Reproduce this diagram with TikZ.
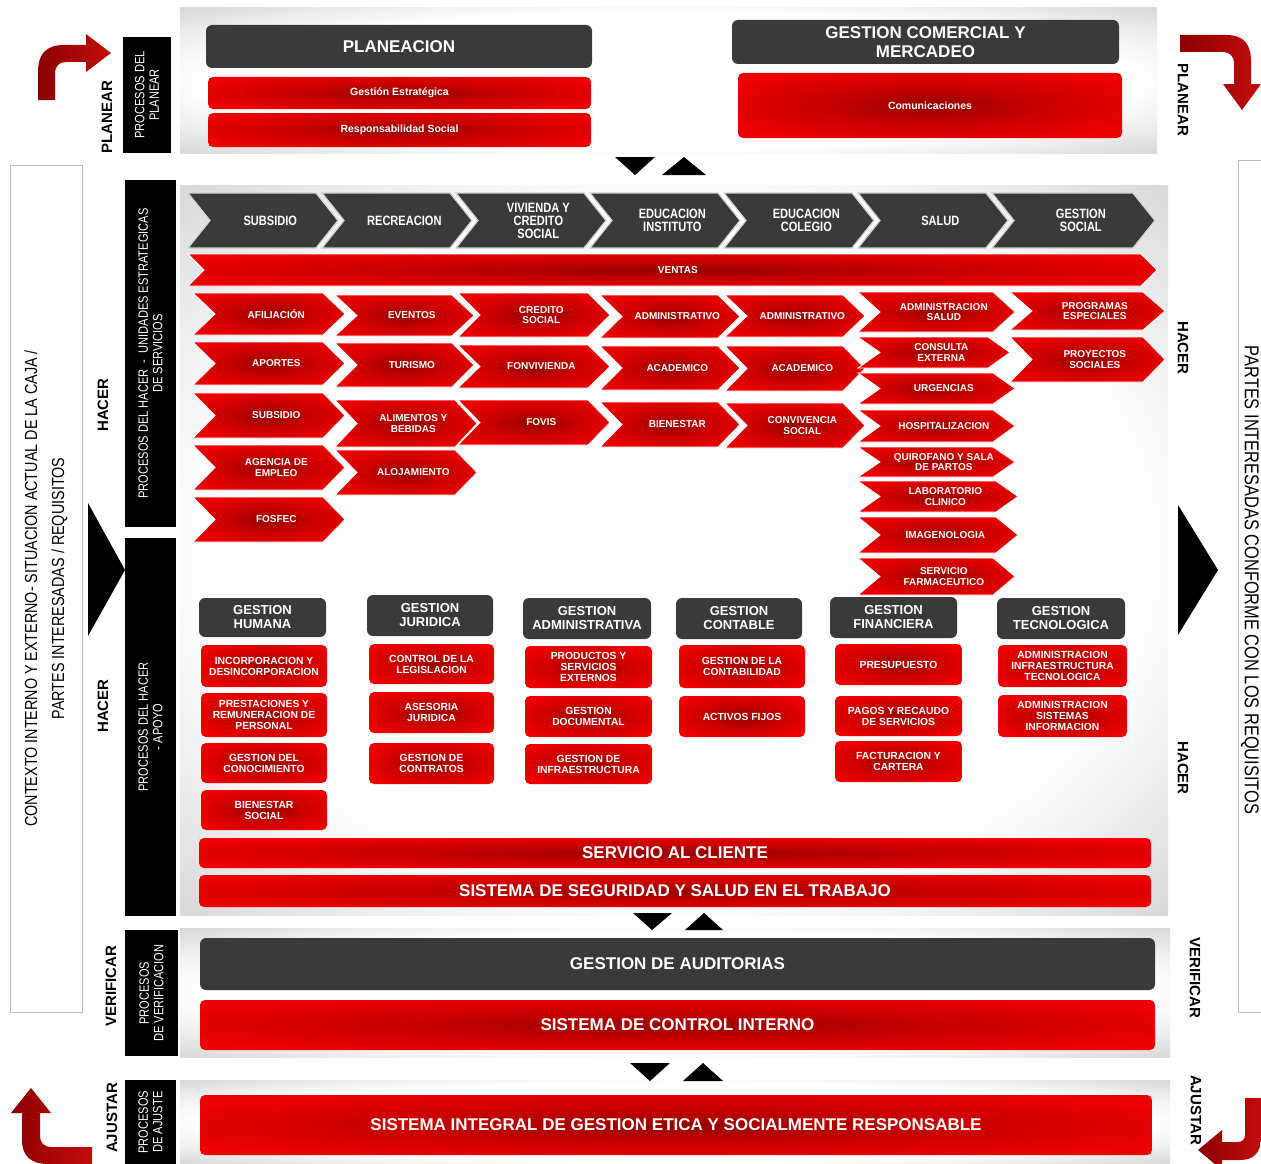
\documentclass[tikz,border=0pt]{standalone}
\usepackage{fontspec}
\setmainfont{Liberation Sans}
\newfontfamily\nar[FakeStretch=0.82]{Liberation Sans}
\definecolor{dkgray}{RGB}{58,58,58}
\definecolor{rdA}{RGB}{150,0,0}
\definecolor{rdB}{RGB}{200,0,0}
\definecolor{rdC}{RGB}{238,0,0}
\definecolor{pgB}{RGB}{200,200,200}
\definecolor{pgC}{RGB}{155,155,155}
\definecolor{arrowred}{RGB}{195,12,12}
\definecolor{arrowdark}{RGB}{140,0,0}
\pgfdeclareradialshading{redsh}{\pgfpoint{0bp}{0bp}}{color(0bp)=(rdA); color(14bp)=(rdB); color(30bp)=(rdC); color(50bp)=(rdC); color(75bp)=(rdC)}
\pgfdeclareradialshading{panelsh}{\pgfpoint{0bp}{0bp}}{color(0bp)=(white); color(24bp)=(white); color(40bp)=(pgB); color(50bp)=(pgC); color(75bp)=(pgC)}
\tikzset{
  panel/.style={shade, shading=panelsh, inner sep=0pt},
  redbox/.style={shade, shading=redsh, rounded corners=5pt, text=white, align=center, inner sep=0pt,
    font=\bfseries\fontsize{10.3}{11}\selectfont},
  darkbox/.style={fill=dkgray, rounded corners=6pt, text=white, align=center, inner sep=0pt,
    font=\bfseries\fontsize{13}{14}\selectfont},
  bigtxt/.style={font=\bfseries\fontsize{17}{19}\selectfont},
  midtxt/.style={font=\bfseries\fontsize{10.5}{12}\selectfont},
  hdrbig/.style={font=\bfseries\fontsize{17}{19}\selectfont},
  blk/.style={fill=black, text=white, align=center, inner sep=0pt, font=\nar\fontsize{13.5}{14.5}\selectfont},
  phase/.style={inner sep=0pt, font=\bfseries\fontsize{15}{17}\selectfont},
  ctxbox/.style={draw=gray!55, line width=0.8pt, fill=white, align=center, inner sep=0pt,
    font=\nar\fontsize{17.5}{27}\selectfont},
  redchev/.style={shade, shading=redsh, draw=white, line width=0.8pt},
  redchev text/.style={text=white, align=center, inner sep=0pt, font=\bfseries\fontsize{10}{10.8}\selectfont},
  darkchev/.style={fill=dkgray, draw=gray!35, line width=1.2pt},
  darkchev text/.style={text=white, align=center, inner sep=0pt, font=\nar\bfseries\fontsize{13.5}{13}\selectfont},
  arrowfill/.style={left color=arrowdark, right color=arrowred},
  tri/.style={fill=black}
}
\newcommand\bx[7]{\node[#2, minimum width={(#5)-(#3)}, minimum height={(#6)-(#4)}] (#1) at ({((#3)+(#5))/2},{((#4)+(#6))/2}) {#7};}
\newcommand\vbx[7]{\node[#2, rotate=90, minimum width={(#6)-(#4)}, minimum height={(#5)-(#3)}] (#1) at ({((#3)+(#5))/2},{((#4)+(#6))/2}) {#7};}
\newcommand\chv[8]{%
  \path[#2] (#3,#5) -- ({(#4)-(#7)},#5) -- (#4,{((#5)+(#6))/2}) -- ({(#4)-(#7)},#6) -- (#3,#6) -- ({(#3)+(#7)},{((#5)+(#6))/2}) -- cycle;
  \node[#2 text] (#1) at ({((#3)+(#4))/2+(#7)/3},{((#5)+(#6))/2}) {#8};}
\begin{document}
\begin{tikzpicture}[x=1pt,y=-1pt]
\useasboundingbox (0,0) rectangle (1261,1164);
\fill[white] (0,0) rectangle (1261,1164);

% ---------- side boxes ----------
\vbx{ctx}{ctxbox}{10}{165}{82}{1012}{CONTEXTO INTERNO Y EXTERNO- SITUACION ACTUAL DE LA CAJA /\\PARTES INTERESADAS / REQUISITOS}
\path[draw=gray!55, line width=0.8pt, fill=white] (1270,160) -- (1238,160) -- (1238,1012) -- (1270,1012);
\node[inner sep=0pt, rotate=-90, font=\nar\fontsize{20}{22}\selectfont] (req) at (1250,580) {PARTES INTERESADAS CONFORME CON LOS REQUISITOS};

% ---------- panels ----------
\bx{pPlan}{panel}{180}{8}{1157}{153}{}
\bx{pHacer}{panel}{180}{185}{1168}{915}{}
\bx{pVer}{panel}{180}{928}{1170}{1057}{}
\bx{pAju}{panel}{180}{1080}{1170}{1164}{}

% ---------- black labels ----------
\vbx{lPlan}{blk}{123}{37}{171}{153}{PROCESOS DEL\\PLANEAR}
\vbx{lHac1}{blk}{125}{180}{176}{527}{PROCESOS DEL HACER \ - \ UNIDADES ESTRATEGICAS\\DE SERVICIOS}
\vbx{lHac2}{blk}{125}{538}{176}{916}{PROCESOS DEL HACER\\- APOYO}
\vbx{lVer}{blk}{125}{930}{178}{1056}{PROCESOS\\DE VERIFICACION}
\vbx{lAju}{blk}{125}{1080}{176}{1164}{PROCESOS\\DE AJUSTE}

% ---------- phase words ----------
\node[phase, rotate=90] (tPlanL) at (107,117) {PLANEAR};
\node[phase, rotate=90] (tHacL1) at (103,405) {HACER};
\node[phase, rotate=90] (tHacL2) at (103,706) {HACER};
\node[phase, rotate=90] (tVerL) at (111,986) {VERIFICAR};
\node[phase, rotate=90] (tAjuL) at (112,1118) {AJUSTAR};
\node[phase, rotate=-90] (tPlanR) at (1183,100) {PLANEAR};
\node[phase, rotate=-90] (tHacR1) at (1183,348) {HACER};
\node[phase, rotate=-90] (tHacR2) at (1183,768) {HACER};
\node[phase, rotate=-90] (tVerR) at (1195,978) {VERIFICAR};
\node[phase, rotate=-90] (tAjuR) at (1196,1110) {AJUSTAR};

% ---------- big triangles ----------
\path[tri] (88,503) -- (125,570) -- (88,636) -- cycle;
\path[tri] (1178,505) -- (1218,570) -- (1178,635) -- cycle;
\path[tri] (615,157) -- (655,157) -- (635,175) -- cycle;
\path[tri] (662,175) -- (706,175) -- (684,157) -- cycle;
\path[tri] (633,913) -- (672,913) -- (652,930) -- cycle;
\path[tri] (685,930) -- (723,930) -- (704,913) -- cycle;
\path[tri] (630,1063) -- (670,1063) -- (650,1081) -- cycle;
\path[tri] (683,1081) -- (723,1081) -- (703,1063) -- cycle;

% ---------- curved arrows ----------
\path[arrowfill] (38,100) -- (38,72) .. controls (38,54) and (46,45) .. (64,45) -- (86,45) -- (86,34) -- (111,53) -- (86,72) -- (86,62) -- (66,62) .. controls (59,62) and (55,66) .. (55,74) -- (55,100) -- cycle;
\path[arrowfill] (1180,35) -- (1226,35) .. controls (1244,35) and (1251,44) .. (1251,62) -- (1251,84) -- (1261,84) -- (1242,110) -- (1223,84) -- (1234,84) -- (1234,64) .. controls (1234,56) and (1230,52) .. (1222,52) -- (1180,52) -- cycle;
\path[arrowfill] (31,1088) -- (51,1113) -- (40,1113) -- (40,1136) .. controls (40,1143) and (44,1147) .. (52,1147) -- (92,1147) -- (92,1164) -- (48,1164) .. controls (31,1164) and (22,1156) .. (22,1140) -- (22,1113) -- (11,1113) -- cycle;
\path[arrowfill] (1245,1098) -- (1261,1098) -- (1261,1138) .. controls (1261,1152) and (1254,1160) .. (1240,1160) -- (1222,1160) -- (1222,1170) -- (1198,1150) -- (1222,1130) -- (1222,1142) -- (1237,1142) .. controls (1242,1142) and (1245,1140) .. (1245,1134) -- cycle;

% ---------- PLANEAR panel ----------
\bx{planeacion}{darkbox, hdrbig}{206}{25}{592}{68}{PLANEACION}
\bx{gestEst}{redbox, midtxt}{208}{77}{591}{109}{Gestión Estratégica}
\bx{respSoc}{redbox, midtxt}{208}{113}{591}{147}{Responsabilidad Social}
\bx{gcm}{darkbox, hdrbig}{732}{20}{1119}{64}{GESTION COMERCIAL Y\\MERCADEO}
\bx{comun}{redbox, midtxt}{738}{73}{1122}{138}{Comunicaciones}

% ---------- unidades estrategicas ----------
\chv{u1}{darkchev}{188}{338}{193}{248}{22}{SUBSIDIO}
\chv{u2}{darkchev}{322}{472}{193}{248}{22}{RECREACION}
\chv{u3}{darkchev}{456}{606}{193}{248}{22}{VIVIENDA Y\\CREDITO\\SOCIAL}
\chv{u4}{darkchev}{590}{740}{193}{248}{22}{EDUCACION\\INSTITUTO}
\chv{u5}{darkchev}{724}{874}{193}{248}{22}{EDUCACION\\COLEGIO}
\chv{u6}{darkchev}{858}{1008}{193}{248}{22}{SALUD}
\chv{u7}{darkchev}{992}{1155}{193}{248}{22}{GESTION\\SOCIAL}

\chv{ventas}{redchev}{188}{1157}{254}{286}{16}{VENTAS}

\chv{s11}{redchev}{193}{345}{293}{335}{22}{AFILIACIÓN}
\chv{s12}{redchev}{193}{345}{342}{385}{22}{APORTES}
\chv{s13}{redchev}{193}{345}{393}{438}{22}{SUBSIDIO}
\chv{s14}{redchev}{193}{345}{445}{490}{22}{AGENCIA DE\\EMPLEO}
\chv{s15}{redchev}{193}{345}{497}{542}{22}{FOSFEC}

\chv{s21}{redchev}{335}{474}{295}{336}{22}{EVENTOS}
\chv{s22}{redchev}{335}{474}{343}{387}{22}{TURISMO}
\chv{s23}{redchev}{335}{477}{400}{447}{22}{ALIMENTOS Y\\BEBIDAS}
\chv{s24}{redchev}{335}{477}{450}{495}{22}{ALOJAMIENTO}

\chv{s31}{redchev}{458}{610}{293}{337}{22}{CREDITO\\SOCIAL}
\chv{s32}{redchev}{458}{610}{345}{388}{22}{FONVIVIENDA}
\chv{s33}{redchev}{458}{610}{400}{445}{22}{FOVIS}

\chv{s41}{redchev}{600}{740}{295}{338}{22}{ADMINISTRATIVO}
\chv{s42}{redchev}{600}{740}{346}{390}{22}{ACADEMICO}
\chv{s43}{redchev}{600}{740}{402}{447}{22}{BIENESTAR}

\chv{s51}{redchev}{725}{865}{295}{337}{22}{ADMINISTRATIVO}
\chv{s52}{redchev}{725}{865}{346}{391}{22}{ACADEMICO}
\chv{s53}{redchev}{725}{865}{403}{448}{22}{CONVIVENCIA\\SOCIAL}

\chv{s61}{redchev}{858}{1015}{292}{332}{22}{ADMINISTRACION\\SALUD}
\chv{s62}{redchev}{858}{1010}{337}{368}{22}{CONSULTA\\EXTERNA}
\chv{s63}{redchev}{858}{1015}{373}{404}{22}{URGENCIAS}
\chv{s64}{redchev}{858}{1015}{410}{442}{22}{HOSPITALIZACION}
\chv{s65}{redchev}{858}{1015}{447}{477}{22}{QUIROFANO Y SALA\\DE PARTOS}
\chv{s66}{redchev}{858}{1018}{481}{512}{22}{LABORATORIO\\CLINICO}
\chv{s67}{redchev}{858}{1018}{517}{553}{22}{IMAGENOLOGIA}
\chv{s68}{redchev}{858}{1015}{558}{595}{22}{SERVICIO\\FARMACEUTICO}

\chv{s71}{redchev}{1010}{1165}{292}{330}{22}{PROGRAMAS\\ESPECIALES}
\chv{s72}{redchev}{1010}{1165}{337}{382}{22}{PROYECTOS\\SOCIALES}

% ---------- apoyo ----------
\bx{gh}{darkbox}{199}{598}{326}{637}{GESTION\\HUMANA}
\bx{gj}{darkbox}{367}{595}{493}{636}{GESTION\\JURIDICA}
\bx{ga}{darkbox}{523}{598}{651}{639}{GESTION\\ADMINISTRATIVA}
\bx{gc}{darkbox}{676}{598}{802}{639}{GESTION\\CONTABLE}
\bx{gf}{darkbox}{830}{597}{957}{638}{GESTION\\FINANCIERA}
\bx{gt}{darkbox}{997}{598}{1125}{639}{GESTION\\TECNOLOGICA}

\bx{h1}{redbox}{201}{645}{327}{687}{INCORPORACION Y\\DESINCORPORACION}
\bx{h2}{redbox}{201}{693}{327}{737}{PRESTACIONES Y\\REMUNERACION DE\\PERSONAL}
\bx{h3}{redbox}{201}{743}{327}{783}{GESTION DEL\\CONOCIMIENTO}
\bx{h4}{redbox}{201}{790}{327}{830}{BIENESTAR\\SOCIAL}

\bx{j1}{redbox}{369}{644}{494}{684}{CONTROL DE LA\\LEGISLACION}
\bx{j2}{redbox}{369}{692}{494}{733}{ASESORIA\\JURIDICA}
\bx{j3}{redbox}{369}{743}{494}{784}{GESTION DE\\CONTRATOS}

\bx{a1}{redbox}{525}{646}{652}{688}{PRODUCTOS Y\\SERVICIOS\\EXTERNOS}
\bx{a2}{redbox}{525}{696}{652}{737}{GESTION\\DOCUMENTAL}
\bx{a3}{redbox}{525}{744}{652}{784}{GESTION DE\\INFRAESTRUCTURA}

\bx{c1}{redbox}{679}{645}{805}{688}{GESTION DE LA\\CONTABILIDAD}
\bx{c2}{redbox}{679}{696}{805}{737}{ACTIVOS FIJOS}

\bx{f1}{redbox}{835}{644}{962}{685}{PRESUPUESTO}
\bx{f2}{redbox}{835}{696}{962}{736}{PAGOS Y RECAUDO\\DE SERVICIOS}
\bx{f3}{redbox}{835}{741}{962}{782}{FACTURACION Y\\CARTERA}

\bx{t1}{redbox}{998}{645}{1127}{687}{ADMINISTRACION\\INFRAESTRUCTURA\\TECNOLOGICA}
\bx{t2}{redbox}{998}{695}{1127}{737}{ADMINISTRACION\\SISTEMAS\\INFORMACION}

\bx{servCli}{redbox, bigtxt}{199}{838}{1151}{868}{SERVICIO AL CLIENTE}
\bx{sst}{redbox, bigtxt}{199}{875}{1151}{907}{SISTEMA DE SEGURIDAD Y SALUD EN EL TRABAJO}

% ---------- verificar / ajustar ----------
\bx{audit}{darkbox, bigtxt}{200}{938}{1155}{990}{GESTION DE AUDITORIAS}
\bx{sci}{redbox, bigtxt}{200}{1000}{1155}{1050}{SISTEMA DE CONTROL INTERNO}
\bx{sig}{redbox, bigtxt}{200}{1095}{1152}{1155}{SISTEMA INTEGRAL DE GESTION ETICA Y SOCIALMENTE RESPONSABLE}
\end{tikzpicture}
\end{document}
